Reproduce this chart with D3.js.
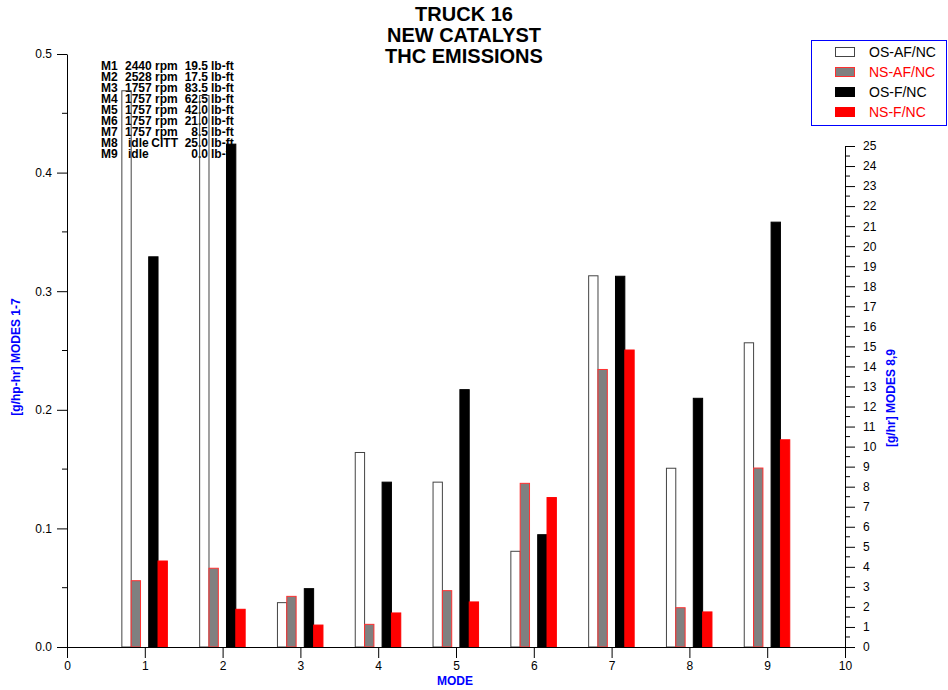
<!DOCTYPE html>
<html><head><meta charset="utf-8">
<script src="https://cdn.jsdelivr.net/npm/d3@7"></script>
<style>
body{margin:0;background:#fff;}
svg text{font-family:"Liberation Sans",Arial,sans-serif;}
</style></head>
<body>
<svg id="chart" width="948" height="690"></svg>
<script>
// ---- data ----
const modes = [1,2,3,4,5,6,7,8,9];
// modes 1-7 in g/hp-hr (left axis), modes 8-9 in g/hr (right axis)
const osAF = [0.469, 0.465, 0.0374, 0.164, 0.139, 0.0807, 0.313, 8.92, 15.18];
const nsAF = [0.0559, 0.0664, 0.0427, 0.0191, 0.0475, 0.138, 0.234, 1.96, 8.93];
const osF  = [0.329, 0.424, 0.0492, 0.139, 0.217, 0.0947, 0.3126, 12.41, 21.2];
const nsF  = [0.0725, 0.0318, 0.0185, 0.0287, 0.038, 0.126, 0.2504, 1.75, 10.34];
const seriesNames = ["OS-AF/NC","NS-AF/NC","OS-F/NC","NS-F/NC"];
const titleLines = ["TRUCK 16","NEW CATALYST","THC EMISSIONS"];
const modeLabels = ["M1","M2","M3","M4","M5","M6","M7","M8","M9"];
const modeSpeeds = ["2440 rpm","2528 rpm","1757 rpm","1757 rpm","1757 rpm","1757 rpm","1757 rpm","idle","idle"];
const modeCycle = ["","","","","","","","CITT",""];
const modeTorques = ["19.5","17.5","83.5","62.5","42.0","21.0","8.5","25.0","0.0"];
const xTicks = [0,1,2,3,4,5,6,7,8,9,10];
const leftTicks = [0,0.1,0.2,0.3,0.4,0.5];
const rightTicks = d3.range(0,26,1);

// ---- styles ----
const styles = [
  {fill:"none", stroke:"#444", textColor:"#000", off:-0.295},
  {fill:"#808080", stroke:"#ff3030", textColor:"#ff0000", off:-0.175},
  {fill:"#000", stroke:"#000", textColor:"#000", off:0.05},
  {fill:"#ff0000", stroke:"#ff0000", textColor:"#ff0000", off:0.17}
];
const barW = 0.12;
const seriesVals = [osAF, nsAF, osF, nsF];

const svg = d3.select("#chart");
const x = d3.scaleLinear().domain([0,10]).range([67,845]);
const yL = d3.scaleLinear().domain([0,0.5]).range([647,54]);
const yR = d3.scaleLinear().domain([0,25]).range([647,146]);

// title
svg.append("g").selectAll("text").data(titleLines).join("text")
  .attr("x",464).attr("y",(d,i)=>21+i*21)
  .attr("text-anchor","middle").attr("font-size",20).attr("font-weight","bold")
  .text(d=>d);

// annotation
const ann = svg.append("g").attr("font-size",12).attr("font-weight","bold");
modeLabels.forEach((m,i)=>{
  const yy = 69.5 + i*11.1;
  ann.append("text").attr("x",101).attr("y",yy).text(m);
  ann.append("text").attr("x", modeSpeeds[i]==="idle"?128:125).attr("y",yy).text(modeSpeeds[i]);
  if (modeCycle[i]) ann.append("text").attr("x",178).attr("y",yy).attr("text-anchor","end").text(modeCycle[i]);
  ann.append("text").attr("x",208).attr("y",yy).attr("text-anchor","end").text(modeTorques[i]);
  ann.append("text").attr("x",211).attr("y",yy).text("lb-ft");
});

// bars
seriesVals.forEach((vals,s)=>{
  const st = styles[s];
  svg.append("g").selectAll("rect").data(modes).join("rect")
    .attr("x",(d)=>x(d+st.off))
    .attr("width",x(barW)-x(0))
    .attr("y",(d,i)=> i<7 ? yL(vals[i]) : yR(vals[i]))
    .attr("height",(d,i)=> 647 - (i<7 ? yL(vals[i]) : yR(vals[i])))
    .attr("fill",st.fill).attr("stroke",st.stroke).attr("stroke-width",1);
});

// axes
const axisStyle = g => {
  g.selectAll("path").attr("stroke","#000");
  g.selectAll("line").attr("stroke","#000");
  g.selectAll("text").attr("font-size",12).attr("font-family","Liberation Sans, Arial, sans-serif").attr("fill","#000");
};
const xAxis = svg.append("g").attr("transform","translate(0,647)")
  .call(d3.axisBottom(x).tickValues(xTicks).tickFormat(d3.format("d")).tickSize(11).tickSizeOuter(0).tickPadding(3));
axisStyle(xAxis);

const lAxis = svg.append("g").attr("transform","translate(67,0)")
  .call(d3.axisLeft(yL).tickValues(leftTicks).tickFormat(d3.format(".1f")).tickSize(10).tickSizeOuter(0).tickPadding(5));
axisStyle(lAxis);
lAxis.append("g").selectAll("line").data(d3.range(0.05,0.5,0.1)).join("line")
  .attr("x1",-5).attr("x2",0).attr("y1",d=>yL(d)).attr("y2",d=>yL(d)).attr("stroke","#000");

const rAxis = svg.append("g").attr("transform","translate(845,0)")
  .call(d3.axisRight(yR).tickValues(rightTicks).tickFormat(d3.format("d")).tickSize(10).tickSizeOuter(0).tickPadding(8));
axisStyle(rAxis);
rAxis.append("g").selectAll("line").data(d3.range(0.5,25,1)).join("line")
  .attr("x1",0).attr("x2",5).attr("y1",d=>yR(d)).attr("y2",d=>yR(d)).attr("stroke","#000");

// axis titles
svg.append("text").attr("x",455).attr("y",685).attr("text-anchor","middle")
  .attr("font-size",12).attr("font-weight","bold").attr("fill","#0000ff").text("MODE");
svg.append("text").attr("transform","translate(20,357) rotate(-90)").attr("text-anchor","middle")
  .attr("font-size",12).attr("font-weight","bold").attr("fill","#0000ff").text("[g/hp-hr] MODES 1-7");
svg.append("text").attr("transform","translate(895,398) rotate(-90)").attr("text-anchor","middle")
  .attr("font-size",12).attr("font-weight","bold").attr("fill","#0000ff").text("[g/hr] MODES 8,9");

// legend
const lg = svg.append("g");
lg.append("rect").attr("x",811.5).attr("y",40.5).attr("width",135).attr("height",85)
  .attr("fill","#fff").attr("stroke","#0000ff").attr("stroke-width",1);
seriesNames.forEach((n,i)=>{
  const cy = 52 + i*20;
  const st = styles[i];
  lg.append("rect").attr("x",835.5).attr("y",cy-4.5).attr("width",19).attr("height",9)
    .attr("fill", st.fill==="none" ? "#fff" : st.fill).attr("stroke",st.stroke).attr("stroke-width",1);
  lg.append("text").attr("x",869).attr("y",cy+5).attr("font-size",14).attr("fill",st.textColor).text(n);
});
</script>
</body></html>
